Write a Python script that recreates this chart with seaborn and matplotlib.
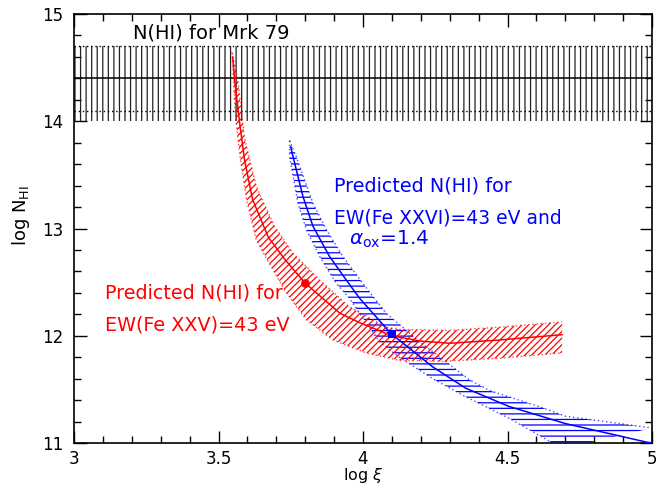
import matplotlib
matplotlib.use("Agg")
import matplotlib.pyplot as plt
import seaborn as sns
from matplotlib.ticker import MultipleLocator

# Measured N(HI) for Mrk 79: best value, dotted error lines, hatched range
mrk79_logN = 14.4
mrk79_err = [14.1, 14.7]
mrk79_band = [14.0, 14.7]

# Predicted N(HI) from EW(Fe XXV) = 43 eV
fe25_xi = [3.549, 3.556, 3.572, 3.590, 3.618, 3.672, 3.730, 3.800, 3.920,
           3.990, 4.100, 4.200, 4.300, 4.470, 4.690]
fe25_logN = [14.60, 14.38, 14.01, 13.64, 13.27, 12.92, 12.71, 12.49, 12.21,
             12.12, 12.00, 11.95, 11.93, 11.96, 12.01]
fe25_hi_xi = [3.547, 3.567, 3.591, 3.631, 3.694, 3.758, 3.850, 3.953, 4.080,
              4.126, 4.299, 4.472, 4.689]
fe25_hi_logN = [14.64, 14.385, 13.83, 13.39, 13.02, 12.77, 12.52, 12.27, 12.08,
                12.06, 12.05, 12.08, 12.13]
fe25_lo_xi = [3.547, 3.553, 3.560, 3.576, 3.597, 3.631, 3.683, 3.735, 3.804,
              3.896, 4.011, 4.126, 4.275, 4.472, 4.689]
fe25_lo_logN = [14.64, 14.30, 14.01, 13.64, 13.27, 12.89, 12.64, 12.40, 12.15,
                11.96, 11.84, 11.77, 11.76, 11.79, 11.84]
fe25_point = [3.80, 12.49]

# Predicted N(HI) from EW(Fe XXVI) = 43 eV, alpha_ox = 1.4
fe26_xi = [3.750, 3.758, 3.792, 3.827, 3.884, 3.942, 3.988, 4.097, 4.241,
           4.356, 4.506, 4.702, 4.978, 5.000]
fe26_logN = [13.76, 13.67, 13.30, 13.02, 12.74, 12.52, 12.35, 12.02, 11.71,
             11.51, 11.34, 11.18, 11.01, 11.00]
fe26_hi_xi = [3.746, 3.769, 3.827, 3.873, 3.930, 3.999, 4.080, 4.137, 4.195,
              4.264, 4.368, 4.437, 4.620, 4.700, 5.000]
fe26_hi_logN = [13.82, 13.67, 13.235, 12.99, 12.74, 12.49, 12.21, 12.08, 11.945,
                11.805, 11.59, 11.49, 11.33, 11.25, 11.14]
fe26_lo_xi = [3.746, 3.746, 3.775, 3.804, 3.850, 3.907, 3.953, 3.988, 4.057,
              4.120, 4.241, 4.356, 4.506, 4.656, 4.700]
fe26_lo_logN = [13.82, 13.67, 13.235, 12.99, 12.74, 12.49, 12.35, 12.21, 11.945,
                11.81, 11.60, 11.43, 11.23, 11.00, 10.95]
fe26_point = [4.10, 12.02]

xtick_vals = [3, 3.5, 4, 4.5, 5]
xtick_labels = ["3", "3.5", "4", "4.5", "5"]
ytick_vals = [11, 12, 13, 14, 15]
ytick_labels = ["11", "12", "13", "14", "15"]

sns.set_theme(style="ticks")
plt.rcParams["font.family"] = ["DejaVu Sans"]
plt.rcParams["hatch.linewidth"] = 0.9
plt.rcParams["mathtext.fontset"] = "dejavusans"

RED = "#ff0000"
BLUE = "#0000ff"

fig = plt.figure(figsize=(6.56, 4.88), dpi=100)
ax = fig.add_axes([74 / 656, 45 / 488, 578 / 656, 429 / 488])

# Mrk 79 band
ax.axhspan(mrk79_band[0], mrk79_band[1], facecolor="none", edgecolor="#222222",
           hatch="|||", linewidth=0, zorder=1)
ax.axhline(mrk79_logN, color="black", lw=1.1, zorder=2)
for v in mrk79_err:
    ax.axhline(v, color="black", lw=1.0, ls=(0, (1, 2)), zorder=2)


def band(xs_hi, ys_hi, xs_lo, ys_lo, color, hatch):
    px = list(xs_hi) + list(xs_lo)[::-1]
    py = list(ys_hi) + list(ys_lo)[::-1]
    ax.fill(px, py, facecolor="none", edgecolor=color, hatch=hatch,
            linewidth=0, zorder=3)
    ax.plot(xs_hi, ys_hi, color=color, lw=1.0, ls=(0, (1, 2)), alpha=0.7, zorder=3)
    ax.plot(xs_lo, ys_lo, color=color, lw=1.0, ls=(0, (1, 2)), alpha=0.7, zorder=3)


band(fe26_hi_xi, fe26_hi_logN, fe26_lo_xi, fe26_lo_logN, BLUE, "---")
band(fe25_hi_xi, fe25_hi_logN, fe25_lo_xi, fe25_lo_logN, RED, "/////")

sns.lineplot(x=fe26_xi, y=fe26_logN, color=BLUE, lw=1.1, sort=False,
             estimator=None, ax=ax, zorder=4)
sns.lineplot(x=fe25_xi, y=fe25_logN, color=RED, lw=1.1, sort=False,
             estimator=None, ax=ax, zorder=4)
sns.scatterplot(x=[fe25_point[0]], y=[fe25_point[1]], color=RED, marker="o",
                s=40, linewidth=0, ax=ax, zorder=5)
sns.scatterplot(x=[fe26_point[0]], y=[fe26_point[1]], color=BLUE, marker="s",
                s=40, linewidth=0, ax=ax, zorder=5)

# Labels inside the plot
ax.text(3.204, 14.82, "N(HI) for Mrk 79", fontsize=14, va="center", color="black")
ax.text(3.107, 12.40, "Predicted N(HI) for", fontsize=13.8, va="center", color=RED)
ax.text(3.107, 12.10, "EW(Fe XXV)=43 eV", fontsize=13.8, va="center", color=RED)
ax.text(3.900, 13.40, "Predicted N(HI) for", fontsize=13.8, va="center", color=BLUE)
ax.text(3.900, 13.10, "EW(Fe XXVI)=43 eV and", fontsize=13.5, va="center", color=BLUE)
ax.text(3.950, 12.90, r"$\alpha_{\rm ox}$=1.4", fontsize=14.5, va="center", color=BLUE)

ax.set_xlim(3, 5)
ax.set_ylim(11, 15)
ax.set_xticks(xtick_vals, labels=xtick_labels)
ax.set_yticks(ytick_vals, labels=ytick_labels)
ax.xaxis.set_minor_locator(MultipleLocator(0.1))
ax.yaxis.set_minor_locator(MultipleLocator(0.2))
ax.tick_params(which="both", direction="in", top=True, right=True,
               color="black", width=1.0, labelsize=12, labelcolor="black")
ax.tick_params(which="major", length=9)
ax.tick_params(which="minor", length=5)
ax.tick_params(axis="x", pad=5)
ax.tick_params(axis="y", pad=8)
for s in ax.spines.values():
    s.set_color("black")
    s.set_linewidth(1.2)

ax.set_xlabel(r"log $\xi$", fontsize=11.5, color="black")
ax.set_ylabel(r"log N$_{\rm HI}$", fontsize=13, color="black")
ax.xaxis.set_label_coords(0.5, -0.054)
ax.yaxis.set_label_coords(-0.072, 0.53)
ax.set_facecolor("white")
fig.patch.set_facecolor("white")

fig.savefig("out.png", dpi=100)
